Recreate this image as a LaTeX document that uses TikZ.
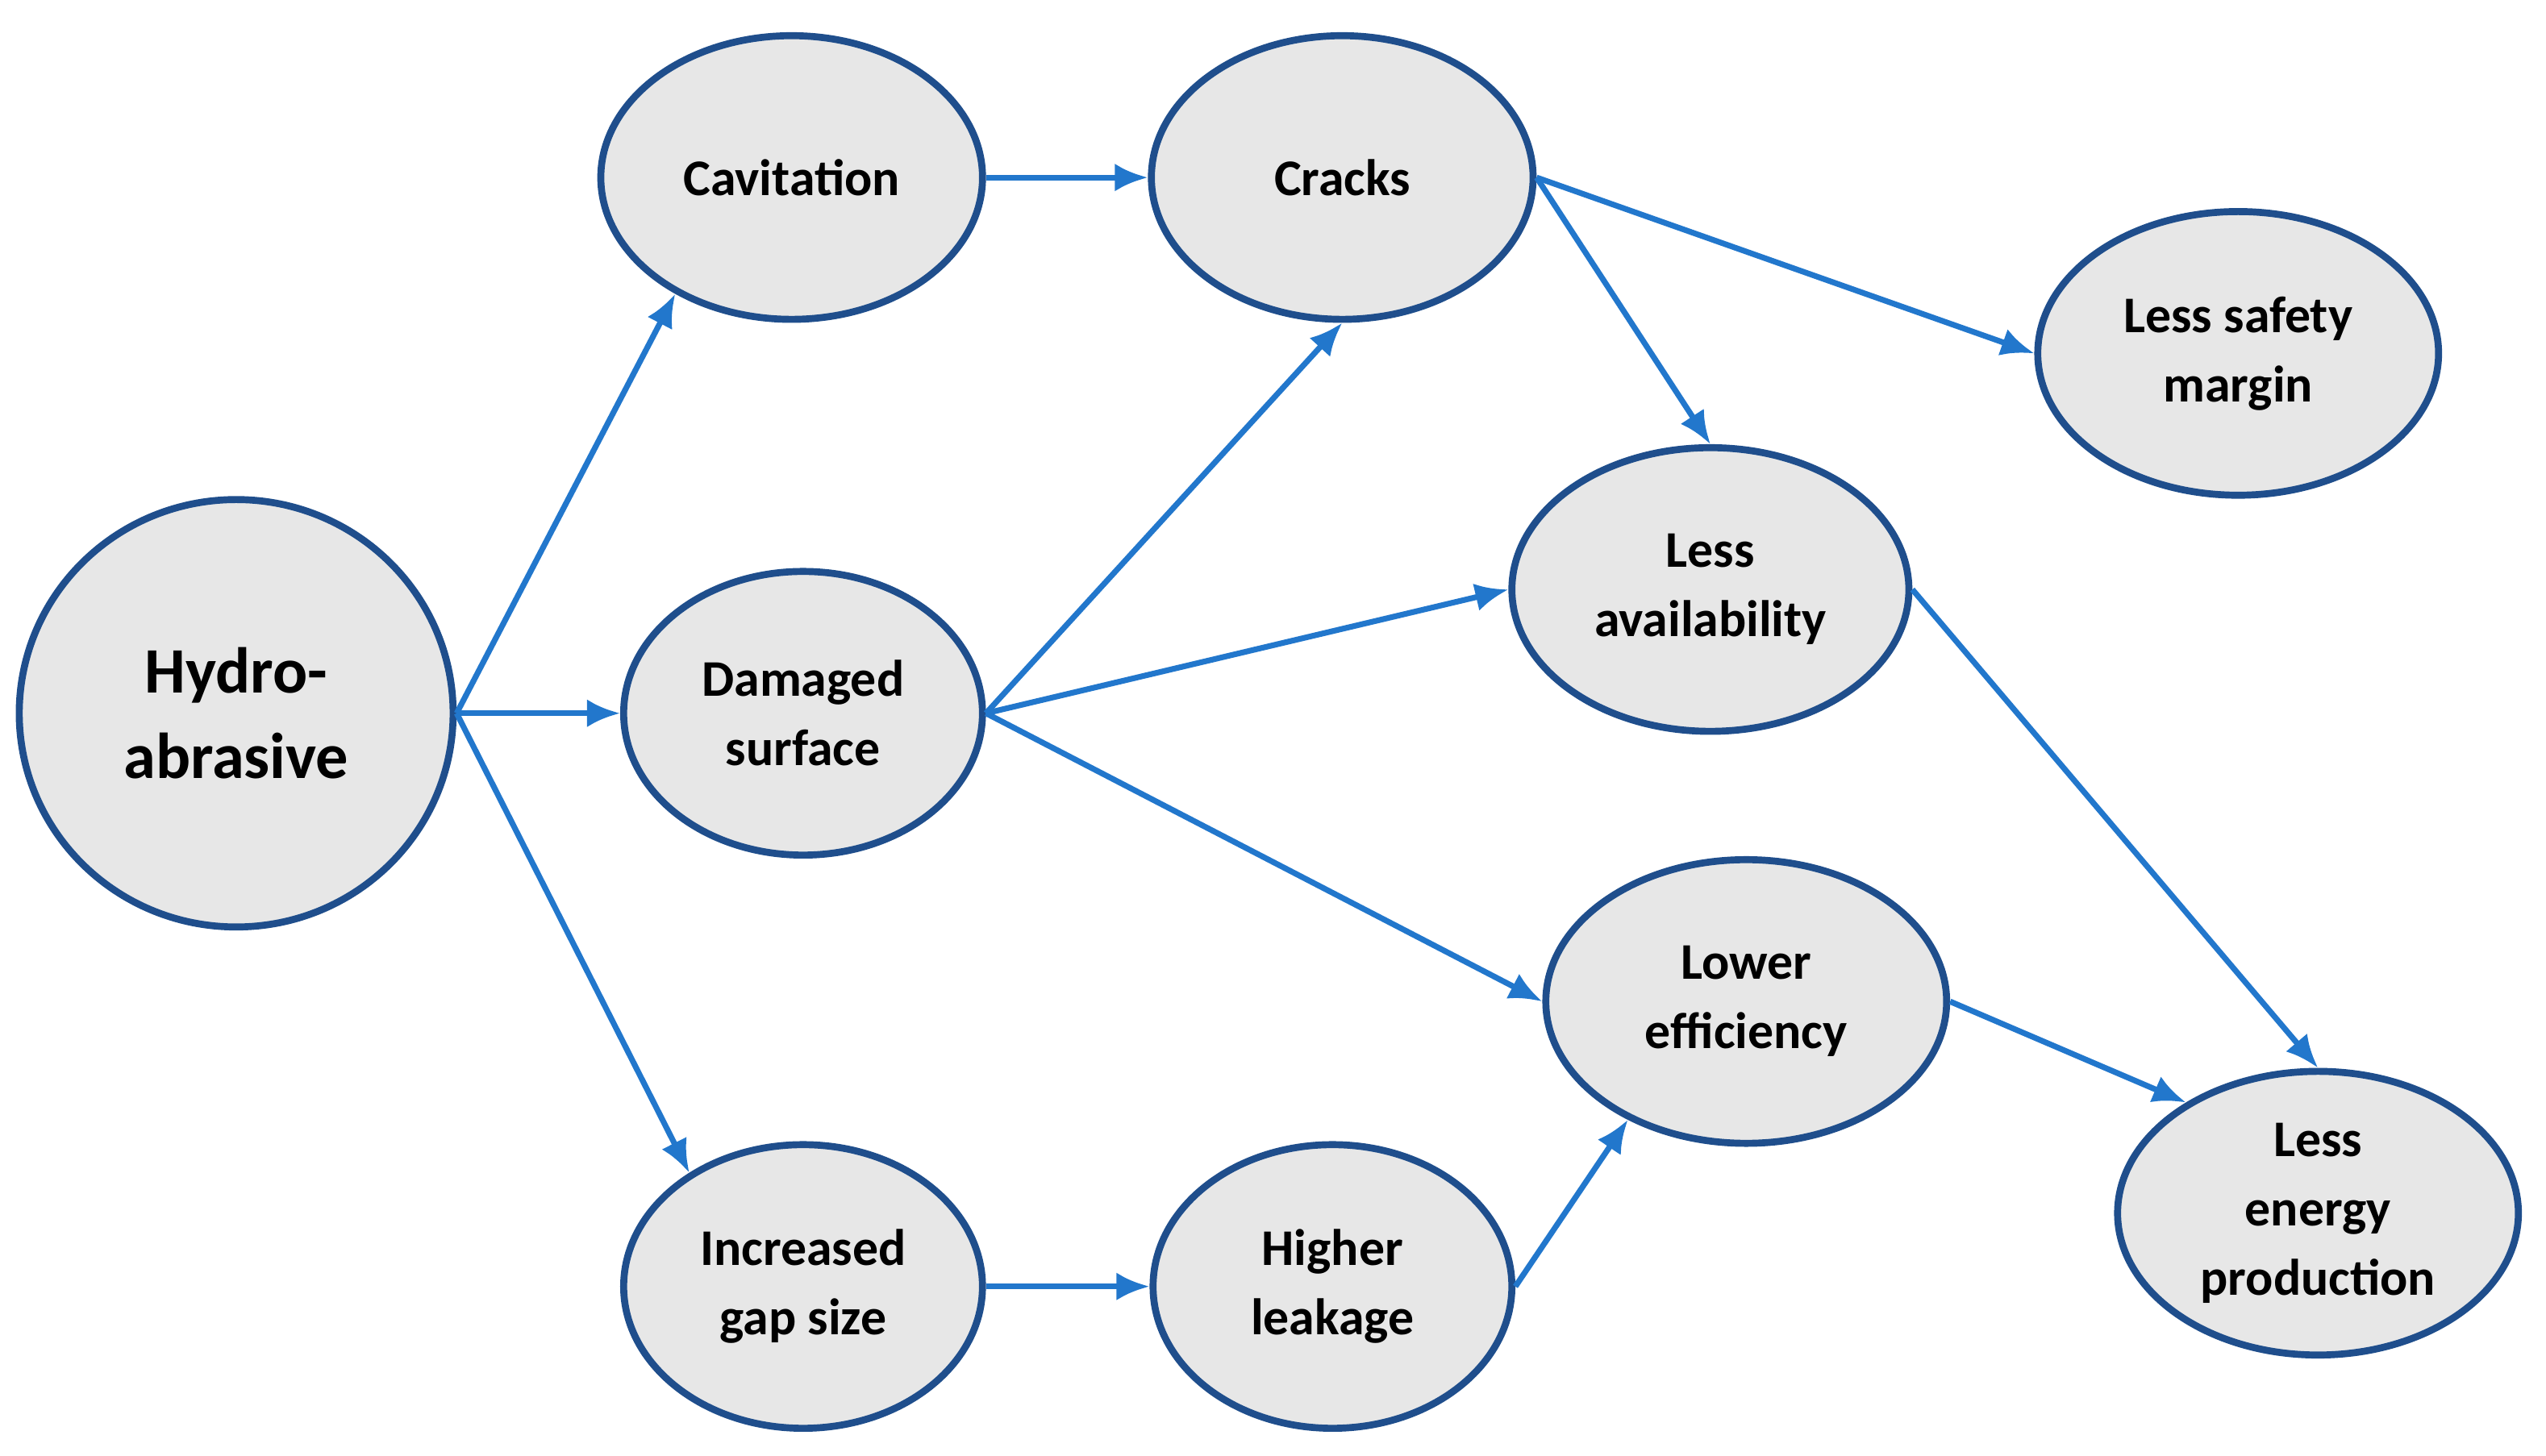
\documentclass[tikz,border=0pt]{standalone}
\usepackage{fontspec}
\setmainfont{Carlito}
\usetikzlibrary{shapes.geometric,arrows.meta}
\definecolor{bord}{HTML}{1F4E8C}
\definecolor{arr}{HTML}{2277CC}
\definecolor{fillg}{HTML}{E7E7E7}
\begin{document}
\begin{tikzpicture}[x=0.0128cm,y=-0.0128cm,
  el/.style={ellipse,draw=bord,fill=fillg,line width=0.55mm,inner sep=0pt,
    minimum width=#1,align=center,font=\bfseries\fontsize{11.5}{15.5}\selectfont},
  el/.default={2.9cm},
  ar/.style={draw=arr,line width=0.45mm,-{Latex[length=2.6mm,width=2.2mm]}}]
\useasboundingbox (0,0) rectangle (1563,894);
\node[el=3.41cm,minimum height=3.36cm,font=\bfseries\fontsize{14.5}{19}\selectfont] (h) at (145,438) {Hydro-\\abrasive};
\node[el=3.0cm,minimum height=2.23cm] (cav) at (486,109) {Cavitation};
\node[el=3.0cm,minimum height=2.23cm] (cr) at (824,109) {Cracks};
\node[el=2.82cm,minimum height=2.23cm] (ds) at (493,438) {Damaged\\surface};
\node[el=2.82cm,minimum height=2.23cm] (ig) at (493,790) {Increased\\gap size};
\node[el=2.82cm,minimum height=2.23cm] (hl) at (818,790) {Higher\\leakage};
\node[el=3.15cm,minimum height=2.23cm] (ls) at (1374,217) {Less safety\\margin};
\node[el=3.12cm,minimum height=2.23cm] (la) at (1050,362) {Less\\availability};
\node[el=3.15cm,minimum height=2.23cm] (le) at (1072,615) {Lower\\efficiency};
\node[el=3.15cm,minimum height=2.23cm] (lp) at (1423,745) {Less\\energy\\production};
\coordinate (hE) at (h.east);
\draw[ar] (hE) -- (cav.-135);
\draw[ar] (hE) -- (ds.west);
\draw[ar] (hE) -- (ig.135);
\draw[ar] (cav) -- (cr);
\draw[ar] (ig) -- (hl);
\draw[ar] (ds.east) -- (cr.south);
\draw[ar] (ds.east) -- (la.west);
\draw[ar] (ds.east) -- (le.west);
\draw[ar] (cr.east) -- (ls.west);
\draw[ar] (cr.east) -- (la.north);
\draw[ar] (hl.east) -- (le.-135);
\draw[ar] (la.east) -- (lp.north);
\draw[ar] (le.east) -- (lp.140);
\end{tikzpicture}
\end{document}
